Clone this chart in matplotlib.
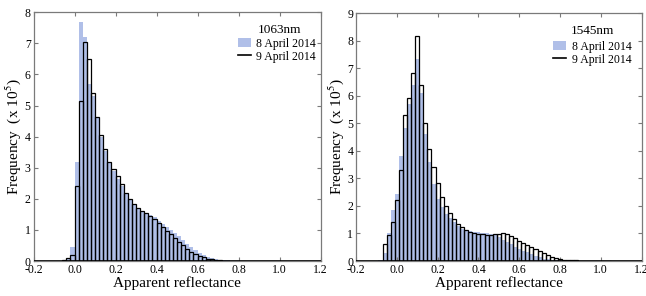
import matplotlib
matplotlib.use('Agg')
import matplotlib.pyplot as plt
import numpy as np
from matplotlib.lines import Line2D
from matplotlib.patches import Patch

plt.rcParams['font.family'] = ['Liberation Serif', 'DejaVu Serif']
plt.rcParams['mathtext.fontset'] = 'stix'

# ---------------------------------------------------------------------------
# Données : histogrammes de réflectance apparente (fréquence x 1e5)
# ---------------------------------------------------------------------------
bin_width = 0.02

# 1063 nm
start_1063 = -0.06
apr8_1063 = [0.02, 0.05, 0.45, 3.2, 7.7, 7.2, 5.7, 5.3, 4.6, 4.0, 3.55, 3.2,
             2.9, 2.65, 2.4, 2.15, 1.95, 1.8, 1.7, 1.62, 1.55, 1.48, 1.4, 1.3,
             1.2, 1.1, 1.0, 0.9, 0.8, 0.68, 0.56, 0.45, 0.35, 0.27, 0.2, 0.14,
             0.1, 0.07, 0.045, 0.03, 0.02, 0.012, 0.008, 0.005]
apr9_1063 = [0.02, 0.1, 0.2, 2.4, 5.15, 7.05, 6.5, 5.4, 4.62, 4.05, 3.6, 3.2,
             2.97, 2.72, 2.48, 2.2, 2.0, 1.83, 1.7, 1.62, 1.54, 1.45, 1.35,
             1.22, 1.1, 0.98, 0.86, 0.74, 0.62, 0.5, 0.4, 0.3, 0.23, 0.17,
             0.12, 0.08, 0.05, 0.035, 0.025, 0.015, 0.01, 0.006, 0.004]

# 1545 nm
start_1545_apr8 = -0.09
start_1545_apr9 = -0.07
apr8_1545 = [0.05, 0.3, 1.0, 1.85, 2.45, 3.8, 4.85, 5.7, 6.4, 7.35, 6.1, 4.6,
             3.6, 2.8, 2.25, 1.95, 1.72, 1.55, 1.4, 1.28, 1.18, 1.12, 1.08,
             1.06, 1.05, 1.03, 1.0, 0.98, 0.95, 0.88, 0.78, 0.68, 0.6, 0.52,
             0.45, 0.38, 0.31, 0.24, 0.18, 0.13, 0.09, 0.06, 0.04, 0.03, 0.02,
             0.015, 0.01]
apr9_1545 = [0.6, 0.95, 1.4, 2.2, 3.3, 5.3, 5.93, 6.84, 8.17, 6.39, 5.0, 4.07,
             3.4, 2.85, 2.34, 2.0, 1.73, 1.52, 1.36, 1.24, 1.14, 1.07, 1.02,
             0.99, 0.97, 0.96, 0.96, 0.97, 0.99, 1.0, 0.97, 0.9, 0.82, 0.74,
             0.66, 0.57, 0.5, 0.43, 0.36, 0.29, 0.22, 0.16, 0.11, 0.07, 0.05,
             0.035, 0.025, 0.02, 0.015, 0.015, 0.015, 0.015, 0.015, 0.015,
             0.015, 0.015]

label_8 = '8 April 2014'
label_9 = '9 April 2014'
blue = '#b0bfe8'
spine_col = '#7a7a7a'

fig = plt.figure(figsize=(6.46, 2.96), dpi=100)
ax1 = fig.add_axes([0.0519, 0.1182, 0.4443, 0.8403])
ax2 = fig.add_axes([0.5511, 0.1182, 0.4421, 0.8368])


def draw_panel(ax, start8, vals8, start9, vals9, ymax, title,
               title_xy, leg_anchor):
    e8 = start8 + bin_width * np.arange(len(vals8))
    e9 = start9 + bin_width * np.arange(len(vals9))
    ax.bar(e8, vals8, width=bin_width, align='edge', color=blue,
           linewidth=0, zorder=1)
    ax.bar(e9, vals9, width=bin_width, align='edge', fill=False,
           edgecolor='black', linewidth=0.9, zorder=2)
    ax.axhline(0, color='black', lw=1.2, zorder=3)

    ax.set_xlim(-0.2, 1.2)
    ax.set_ylim(0, ymax)
    ticks = np.arange(-0.2, 1.21, 0.2)
    ax.set_xticks(ticks)
    ax.set_xticklabels([f'{t:.1f}' for t in ticks])
    ax.set_yticks(range(0, ymax + 1))
    ax.tick_params(direction='in', top=True, right=True, length=3,
                   color=spine_col, labelsize=8.5)
    ax.tick_params(axis='x', pad=2.5)
    ax.tick_params(axis='y', pad=2)
    for s in ax.spines.values():
        s.set_color(spine_col)
        s.set_linewidth(0.9)

    ax.set_xlabel('Apparent reflectance', fontsize=11, labelpad=0)
    ax.set_ylabel('Frequency  (x 10$^5$)', fontsize=11, labelpad=1)

    ax.text(title_xy[0], title_xy[1], title, transform=ax.transAxes,
            fontsize=9.5, ha='left', va='center')
    handles = [Patch(facecolor=blue, edgecolor='none', label=label_8),
               Line2D([0], [0], color='black', lw=1.2, label=label_9)]
    ax.legend(handles=handles, loc='upper right', bbox_to_anchor=leg_anchor,
              frameon=False, fontsize=8.5, handlelength=1.1, handleheight=0.9,
              handletextpad=0.5, labelspacing=0.08, borderpad=0,
              borderaxespad=0)


draw_panel(ax1, start_1063, apr8_1063, start_1063, apr9_1063, 8, '1063nm',
           (0.78, 0.928), (0.985, 0.898))
draw_panel(ax2, start_1545_apr8, apr8_1545, start_1545_apr9, apr9_1545, 9,
           '1545nm', (0.753, 0.928), (0.965, 0.89))

plt.savefig('out.png', dpi=100, facecolor='white')
plt.close()
